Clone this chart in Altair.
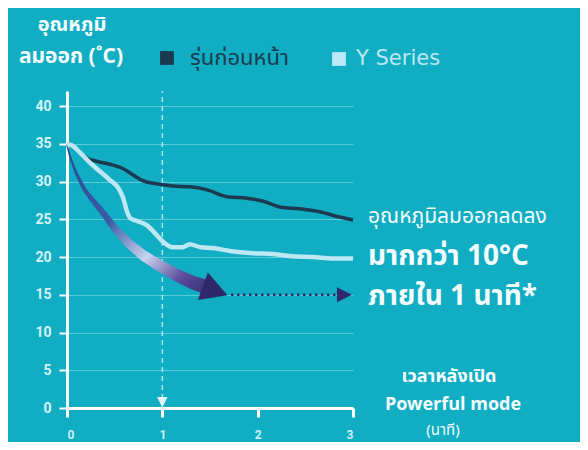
import altair as alt
import pandas as pd

# ---- data ----
prev_x = [0, 0.05, 0.10, 0.21, 0.31, 0.45, 0.59, 0.69, 0.80, 0.94, 1.11, 1.29, 1.47, 1.68, 1.89, 2.06, 2.24, 2.44, 2.65, 2.86, 3.0]
prev_y = [35, 34.8, 34.3, 33.1, 32.7, 32.3, 31.7, 30.9, 30.1, 29.7, 29.4, 29.3, 28.9, 28.0, 27.8, 27.4, 26.6, 26.4, 26.0, 25.3, 24.9]
yser_x = [0, 0.05, 0.14, 0.24, 0.35, 0.45, 0.54, 0.59, 0.63, 0.66, 0.73, 0.84, 0.92, 1.01, 1.11, 1.21, 1.29, 1.40, 1.53, 1.71, 1.95, 2.16, 2.37, 2.58, 2.79, 3.0]
yser_y = [35, 34.8, 33.8, 32.5, 31.3, 30.2, 29.1, 27.8, 26.0, 25.2, 24.8, 24.2, 23.2, 22.0, 21.3, 21.3, 21.7, 21.3, 21.2, 20.8, 20.5, 20.4, 20.1, 20.0, 19.8, 19.8]

# big curved arrow (illustration path) and its width
arrow_x = [0.0, 0.04, 0.10, 0.18, 0.27, 0.37, 0.50, 0.65, 0.80, 0.98, 1.15, 1.32, 1.50]
arrow_y = [34.8, 33.0, 31.0, 29.0, 27.5, 26.0, 23.8, 21.8, 20.2, 18.8, 17.6, 16.6, 15.9]
arrow_w = [1.5, 2.2, 3.0, 4.0, 5.0, 6.0, 7.5, 9.0, 10.5, 11.5, 12.5, 13.5, 14]
arrow_head = [1.54, 15.6]
dotted_x = [1.72, 2.88]
dotted_y = 15
dotted_head = [2.91, 15]
marker_x = 1
marker_head_y = 0.75

x_ticks = [0, 1, 2, 3]
y_ticks = [0, 5, 10, 15, 20, 25, 30, 35, 40]

series_names = ["รุ่นก่อนหน้า", "Y Series"]
y_title = ["อุณหภูมิ", "ลมออก (˚C)"]
x_title = ["เวลาหลังเปิด", "Powerful mode", "(นาที)"]
note = ["อุณหภูมิลมออกลดลง", "มากกว่า 10°C", "ภายใน 1 นาที*"]

BG = "#11adc3"
DARK = "#1c3a4f"
LIGHT = "#bde7f2"
TXT = "#f4fcfd"
FONT = "'Noto Sans Thai', 'Noto Sans', sans-serif"
LATIN = "'DejaVu Sans', 'Noto Sans Thai', sans-serif"

xs = alt.Scale(domain=[0, 3], nice=False, zero=False)
ys = alt.Scale(domain=[0, 42], nice=False, zero=False)
xaxis = alt.Axis(values=x_ticks, format="d", title=None, grid=False,
                 domainColor="white", domainWidth=3, tickColor="white", tickWidth=3,
                 tickSize=9, labelColor="#cdeff5", labelFontSize=12, labelFontWeight="bold",
                 labelFont="Roboto", labelPadding=12)
yaxis = alt.Axis(values=y_ticks, title=None, grid=True, gridColor="#7ad6e2", gridWidth=1,
                 gridOpacity=0.7, domainColor="white", domainWidth=3, tickColor="white",
                 tickWidth=2, tickSize=8, labelColor="#d6f3f8", labelFontSize=14,
                 labelFontWeight="bold", labelFont="Roboto", labelPadding=8)


def X(f):
    return alt.X(f, type="quantitative", scale=xs, axis=xaxis)


def Y(f):
    return alt.Y(f, type="quantitative", scale=ys, axis=yaxis)


prev_df = pd.DataFrame({"x": prev_x, "y": prev_y})
yser_df = pd.DataFrame({"x": yser_x, "y": yser_y})
arrow_df = pd.DataFrame({"x": arrow_x, "y": arrow_y, "w": arrow_w})

vline = alt.Chart(pd.DataFrame({"x": [marker_x], "y": [0], "y2": [42]})).mark_rule(
    color="#a9e8f2", strokeWidth=1.5, strokeDash=[5, 4]).encode(x=X("x"), y=Y("y"), y2="y2")
vhead = alt.Chart(pd.DataFrame({"x": [marker_x], "y": [marker_head_y]})).mark_point(
    shape="M-1,-1 L1,-1 L0,1 Z", filled=True, opacity=1, size=110, color="#e2f7fb").encode(x=X("x"), y=Y("y"))

grad = alt.Gradient(gradient="linear", x1=0, y1=0, x2=1, y2=1, stops=[
    alt.GradientStop(color="#2b4a93", offset=0),
    alt.GradientStop(color="#3a5ca6", offset=0.4),
    alt.GradientStop(color="#c9d3ef", offset=0.64),
    alt.GradientStop(color="#5b4d9d", offset=0.82),
    alt.GradientStop(color="#2f2a6c", offset=1),
])
trail = alt.Chart(arrow_df).mark_trail(color=grad).encode(
    x=X("x"), y=Y("y"), size=alt.Size("w:Q", scale=None))
head = alt.Chart(pd.DataFrame({"x": [arrow_head[0]], "y": [arrow_head[1]]})).mark_point(
    shape="M1,0 L-0.8,-1 L-0.8,1 Z", filled=True, opacity=1, size=850, angle=20,
    color="#2f296a").encode(x=X("x"), y=Y("y"))

dotted = alt.Chart(pd.DataFrame({"x": [dotted_x[0]], "x2": [dotted_x[1]], "y": [dotted_y]})).mark_rule(
    color="#2c2f6e", strokeWidth=2.5, strokeDash=[2.5, 3.5]).encode(x=X("x"), x2="x2", y=Y("y"))
dhead = alt.Chart(pd.DataFrame({"x": [dotted_head[0]], "y": [dotted_head[1]]})).mark_point(
    shape="M1,0 L-1,-1 L-1,1 Z", filled=True, opacity=1, size=225, color="#2c2a6c").encode(x=X("x"), y=Y("y"))

prev_line = alt.Chart(prev_df).mark_line(color=DARK, strokeWidth=3.5, interpolate="monotone").encode(x=X("x"), y=Y("y"))
yser_line = alt.Chart(yser_df).mark_line(color=LIGHT, strokeWidth=4.5, interpolate="monotone").encode(x=X("x"), y=Y("y"))

one = pd.DataFrame({"a": [0]})


def txt(s, px, py, size, weight="normal", color=TXT, align="left", font=FONT):
    return alt.Chart(one).mark_text(align=align, baseline="middle", fontSize=size, fontWeight=weight,
                                    font=font, color=color).encode(
        x=alt.value(px), y=alt.value(py), text=alt.value(s))


def sq(px, py, color):
    return alt.Chart(one).mark_point(shape="square", filled=True, opacity=1, size=190, color=color).encode(
        x=alt.value(px), y=alt.value(py))


labels = [
    txt(y_title[0], 5, -66, 20, "bold", align="center"),
    txt(y_title[1], 4, -34, 21, "bold", align="center"),
    sq(100, -33, DARK),
    txt(series_names[0], 123, -33, 22, color=DARK),
    sq(272, -32, LIGHT),
    txt(series_names[1], 289, -32, 21, color=LIGHT, font=LATIN),
    txt(note[0], 301, 126, 21),
    txt(note[1], 301, 166, 28, "bold"),
    txt(note[2], 301, 206, 28, "bold"),
    txt(x_title[0], 382, 286, 18, "bold", align="center"),
    txt(x_title[1], 386, 314, 18, "bold", align="center"),
    txt(x_title[2], 376, 339, 15, align="center"),
]

chart = alt.layer(vline, vhead, trail, head, dotted, dhead, prev_line, yser_line, *labels).properties(
    width=286, height=317,
    padding={"left": 59, "top": 83, "right": 227, "bottom": 34},
    autosize=alt.AutoSizeParams(type="none"),
    background=BG,
).configure_view(strokeWidth=0)

chart.save("out.html", embed_options={"renderer": "svg", "actions": False})
